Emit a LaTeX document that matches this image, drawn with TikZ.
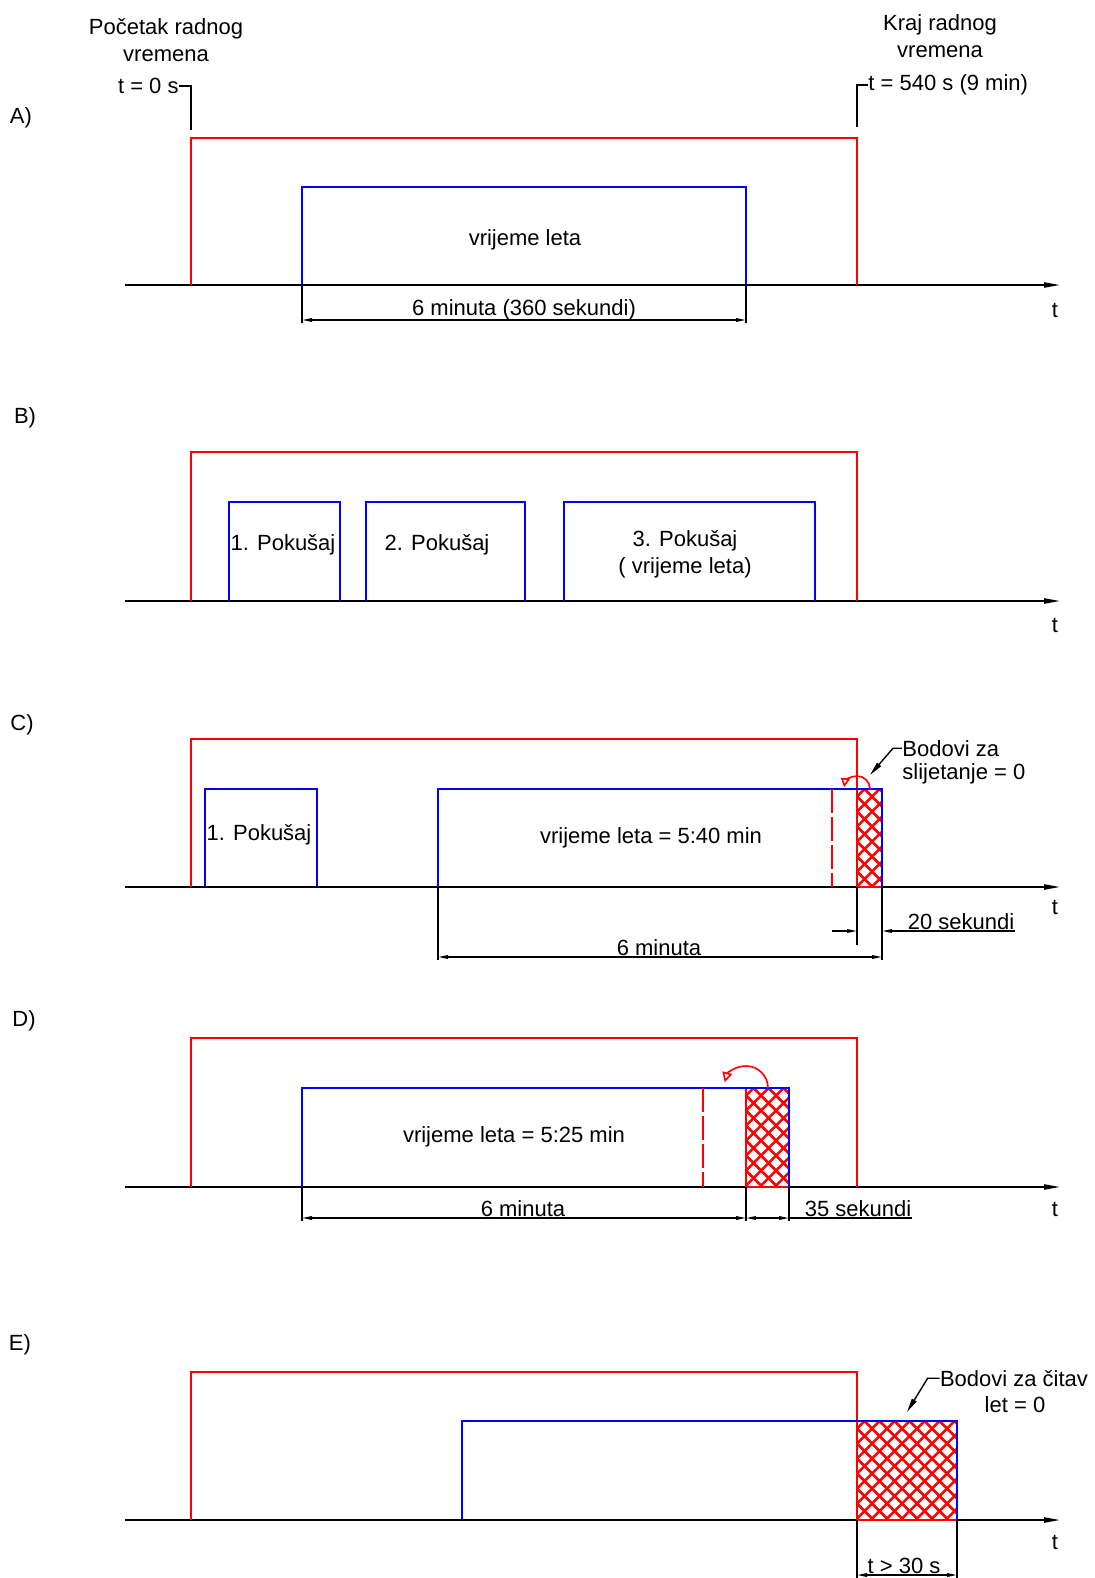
\documentclass[tikz,border=0pt]{standalone}
\usepackage{fontspec}
\setmainfont{Liberation Sans}
\usetikzlibrary{arrows.meta}
\newcommand\myhatch[4]{%
  \begin{scope}
    \clip (#1,#2) rectangle (#3,#4);
    \foreach \k in {-10,...,20}{
      \draw[hatchl] ({#1+7.5+\k*15},{#2}) -- ++(150,150);
      \draw[hatchl] ({#1+7.5+\k*15},{#2}) -- ++(-150,150);
    }
  \end{scope}
  \draw[hatchl] (#1,#2) rectangle (#3,#4);
}
\begin{document}
\begin{tikzpicture}[x=0.5pt,y=-0.5pt,
  redl/.style={draw=red, line width=0.8pt},
  bluel/.style={draw=blue, line width=0.8pt},
  axisl/.style={draw=black, line width=0.8pt, -{Triangle[length=8pt,width=2.6pt]}},
  dimext/.style={draw=black, line width=0.7pt},
  dimarr/.style={draw=black, line width=0.7pt, {Triangle[length=5pt,width=1.8pt]}-{Triangle[length=5pt,width=1.8pt]}},
  dimone/.style={draw=black, line width=0.7pt, -{Triangle[length=5pt,width=1.8pt]}},
  txt/.style={font=\fontsize{11}{13.5}\selectfont, inner sep=0pt, align=center, yshift=-1.1pt},
  btxt/.style={font=\fontsize{11}{13.5}\selectfont, inner sep=0pt, anchor=base},
  hatchl/.style={draw=red, line width=1.25pt},
  leader/.style={draw=black, line width=0.7pt, -{Triangle[length=7pt,width=2.6pt]}},
  dashr/.style={draw=red, line width=0.8pt, dash pattern=on 12pt off 2pt},
]
\useasboundingbox (0,0) rectangle (1094,1578);

% ---------------- A ----------------
\node[txt] (lA) at (21,116) {A)};
\node[txt] (startlbl) at (166,37.5) {Početak radnog\\vremena};
\node[txt] (endlbl) at (940,33.5) {Kraj radnog\\vremena};
\node[txt, anchor=east] (t0) at (179,84) {t = 0 s};
\node[txt, anchor=west] (t540) at (868,83) {t = 540 s (9 min)};
\coordinate (t0foot) at (191,130);
\coordinate (t540foot) at (857,127);
\draw[dimext] (t0.east) -| (t0foot);
\draw[dimext] (t540foot) |- (t540.west);

\draw[axisl] (125,285) -- (1060,285);
\draw[redl] (191,285) -- (191,138) -- (857,138) -- (857,285);
\draw[bluel] (302,285) -- (302,187) -- (746,187) -- (746,285);
\node[txt] (vlA) at (525,238) {vrijeme leta};
\draw[dimext] (302,285) -- (302,323);
\draw[dimext] (746,285) -- (746,323);
\draw[dimarr] (302,320) -- (746,320);
\node[txt] (dimA) at (524,308) {6 minuta (360 sekundi)};
\node[txt] (tA) at (1055,308) {t};

% ---------------- B ----------------
\node[txt] (lB) at (25,416) {B)};
\draw[axisl] (125,601) -- (1060,601);
\draw[redl] (191,601) -- (191,452) -- (857,452) -- (857,601);
\draw[bluel] (229,601) -- (229,502) -- (340,502) -- (340,601);
\draw[bluel] (366,601) -- (366,502) -- (525,502) -- (525,601);
\draw[bluel] (564,601) -- (564,502) -- (815,502) -- (815,601);
\node[txt] (p1B) at (283,543) {1. Pokušaj};
\node[txt] (p2B) at (437,543) {2. Pokušaj};
\node[txt] (p3B) at (685,552) {3. Pokušaj\\( vrijeme leta)};
\node[txt] (tB) at (1055,623) {t};

% ---------------- C ----------------
\node[txt] (lC) at (22,723) {C)};
\draw[axisl] (125,887) -- (1060,887);
\draw[redl] (191,887) -- (191,739) -- (857,739) -- (857,887);
\myhatch{857}{789}{882}{887}
\draw[bluel] (205,887) -- (205,789) -- (317,789) -- (317,887);
\draw[bluel] (438,887) -- (438,789) -- (882,789) -- (882,887);
\draw[dashr] (832,789) -- (832,887);
\node[txt] (p1C) at (259,833) {1. Pokušaj};
\node[txt] (vlC) at (651,836) {vrijeme leta = 5:40 min};
\draw[redl, -{Triangle[open,length=4.5pt,width=4.5pt]}] (870,789) arc[start angle=0, end angle=-172, radius=13];
\node[txt, anchor=west] (bzs1) at (902,746) {Bodovi za};
\node[txt, anchor=west] (bzs2) at (902,772) {slijetanje = 0};
\coordinate (tipC) at (870,775);
\draw[leader] (bzs1.west) -- ++(-9,0) -- (tipC);
\node[txt] (tC) at (1055,905) {t};
\draw[dimext] (438,887) -- (438,960);
\draw[dimext] (857,887) -- (857,945);
\draw[dimext] (882,887) -- (882,960);
\draw[dimone] (832,931) -- (857,931);
\draw[dimone] (1015,931) -- (882,931);
\node[btxt] (s20) at (961,929) {20 sekundi};
\draw[dimarr] (438,957) -- (882,957);
\node[btxt] (m6C) at (659,955) {6 minuta};

% ---------------- D ----------------
\node[txt] (lD) at (24,1019) {D)};
\draw[axisl] (125,1187) -- (1060,1187);
\draw[redl] (191,1187) -- (191,1038) -- (857,1038) -- (857,1187);
\myhatch{746}{1088}{789}{1187}
\draw[bluel] (302,1187) -- (302,1088) -- (789,1088) -- (789,1187);
\draw[dashr] (703,1088) -- (703,1187);
\node[txt] (vlD) at (514,1135) {vrijeme leta = 5:25 min};
\draw[redl, -{Triangle[open,length=5pt,width=5pt]}] (768,1088) arc[start angle=0, end angle=-165, radius=22];
\node[txt] (tD) at (1055,1207) {t};
\draw[dimext] (302,1187) -- (302,1221);
\draw[dimext] (746,1187) -- (746,1221);
\draw[dimext] (789,1187) -- (789,1221);
\draw[dimarr] (302,1218) -- (746,1218);
\draw[dimarr] (746,1218) -- (789,1218);
\draw[dimext] (789,1218) -- (912,1218);
\node[btxt] (m6D) at (523,1216) {6 minuta};
\node[btxt] (s35) at (858,1216) {35 sekundi};

% ---------------- E ----------------
\node[txt] (lE) at (20,1343) {E)};
\draw[axisl] (125,1520) -- (1060,1520);
\draw[redl] (191,1520) -- (191,1372) -- (857,1372) -- (857,1520);
\myhatch{857}{1421}{957}{1520}
\draw[bluel] (462,1520) -- (462,1421) -- (957,1421) -- (957,1520);
\node[txt] (bzc1) at (1014,1376) {Bodovi za čitav};
\node[txt] (bzc2) at (1015,1402) {let = 0};
\coordinate (tipE) at (907,1412);
\draw[leader] (bzc1.west) -- ++(-12,0) -- (tipE);
\node[txt] (tE) at (1055,1540) {t};
\draw[dimext] (857,1520) -- (857,1580);
\draw[dimext] (957,1520) -- (957,1580);
\draw[dimarr] (857,1575) -- (957,1575);
\node[btxt] (t30) at (904,1573) {t > 30 s};
\end{tikzpicture}
\end{document}
